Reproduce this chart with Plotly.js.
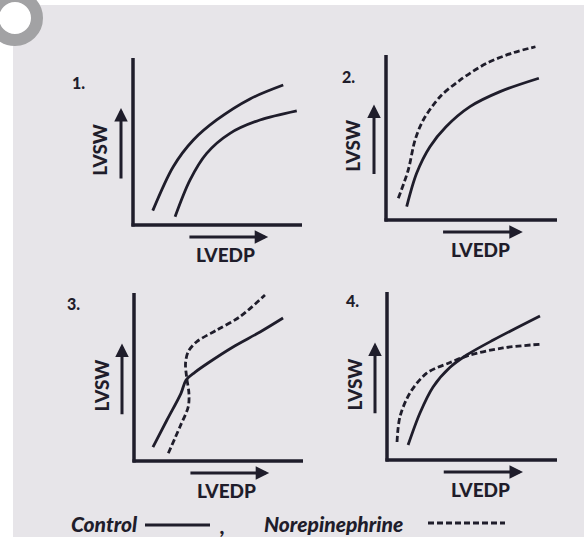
<!DOCTYPE html>
<html>
<head>
<meta charset="utf-8">
<script src="https://cdn.plot.ly/plotly-3.0.1.min.js"></script>
<style>html,body{margin:0;padding:0;background:#e8e6ea;}</style>
</head>
<body>
<div id="chart" style="width:584px;height:537px;"></div>
<script>
// ---------- data (arbitrary units, 0-10 along each axis) ----------
const panelLabels = ['1.', '2.', '3.', '4.'];
const xAxisLabel = 'LVEDP';
const yAxisLabel = 'LVSW';
const legendControl = 'Control';
const legendNorepi = 'Norepinephrine';

// Panel 1 (both curves printed solid)
const p1UpperX = [1.17, 2.38, 3.57, 4.95, 6.92, 8.89];
const p1UpperY = [0.86, 3.49, 5.09, 6.29, 7.55, 8.38];
const p1LowerX = [2.49, 3.37, 4.36, 5.74, 7.51, 9.69];
const p1LowerY = [0.50, 2.69, 4.29, 5.49, 6.29, 6.84];
// Panel 2
const p2ControlX = [1.21, 1.79, 2.57, 3.51, 4.91, 6.67, 8.94];
const p2ControlY = [0.81, 2.83, 4.44, 5.65, 6.87, 7.78, 8.59];
const p2NorepiX = [0.72, 1.30, 1.70, 2.18, 3.16, 4.33, 5.89, 7.45, 8.74];
const p2NorepiY = [1.32, 3.03, 4.85, 6.06, 7.47, 8.48, 9.50, 10.14, 10.50];
// Panel 3
const p3ControlX = [1.12, 1.95, 2.78, 3.08, 3.60, 4.36, 5.86, 7.46, 8.82];
const p3ControlY = [0.83, 2.44, 4.03, 4.82, 5.28, 5.82, 6.79, 7.68, 8.51];
const p3NorepiX = [2.03, 2.72, 3.21, 3.25, 3.11, 3.05, 3.21, 3.71, 4.91, 6.27, 7.75];
const p3NorepiY = [0.46, 2.04, 3.23, 4.03, 5.02, 5.82, 6.51, 7.10, 7.80, 8.59, 9.88];
// Panel 4
const p4ControlX = [1.24, 1.94, 2.71, 3.71, 4.69, 6.25, 9.00];
const p4ControlY = [0.89, 2.80, 4.35, 5.52, 6.25, 7.14, 8.57];
const p4NorepiX = [0.59, 0.76, 1.35, 2.35, 3.71, 4.88, 6.82, 9.12];
const p4NorepiY = [1.07, 2.56, 3.99, 5.18, 5.80, 6.25, 6.67, 6.90];

// ---------- layout / styling ----------
const W = 584, H = 537;
const INK = '#1f1d2b';
const BG = '#e7e5e9';
const FONT = 'Lato, "Open Sans", sans-serif';
const DASH = '6px,3px';
const curveW = 2.8;

// pixel boxes of each panel's axes: [left, right, bottom, top], and number-label offsets (px)
const panels = [
  {box: [133, 302, 225, 58], num: [-55, 24]},
  {box: [386, 557, 220, 55], num: [-38, 22]},
  {box: [134, 303, 461, 293], num: [-61, 10]},
  {box: [387, 557, 460, 292], num: [-35, 8]}
];
const series = [
  [[p1UpperX, p1UpperY, 'solid'], [p1LowerX, p1LowerY, 'solid']],
  [[p2ControlX, p2ControlY, 'solid'], [p2NorepiX, p2NorepiY, DASH]],
  [[p3ControlX, p3ControlY, 'solid'], [p3NorepiX, p3NorepiY, DASH]],
  [[p4ControlX, p4ControlY, 'solid'], [p4NorepiX, p4NorepiY, DASH]]
];

const pad = {l: 72, r: 14, b: 44, t: 16};
const layout = {
  width: W, height: H,
  margin: {l: 0, r: 0, t: 0, b: 0},
  paper_bgcolor: BG, plot_bgcolor: 'rgba(0,0,0,0)',
  showlegend: false,
  shapes: [], annotations: []
};
const traces = [];

panels.forEach((p, i) => {
  const [L, R, B, T] = p.box;
  const w = R - L, h = B - T;
  const n = i + 1;
  const xa = 'xaxis' + (n === 1 ? '' : n), ya = 'yaxis' + (n === 1 ? '' : n);
  const xr = 'x' + (n === 1 ? '' : n), yr = 'y' + (n === 1 ? '' : n);
  const dx = px => px / w * 10, dy = px => px / h * 10;
  layout[xa] = {domain: [(L - pad.l) / W, (R + pad.r) / W], range: [-dx(pad.l), 10 + dx(pad.r)],
                visible: false, fixedrange: true, anchor: yr};
  layout[ya] = {domain: [1 - (B + pad.b) / H, 1 - (T - pad.t) / H], range: [-dy(pad.b), 10 + dy(pad.t)],
                visible: false, fixedrange: true, anchor: xr};
  series[i].forEach(s => {
    traces.push({x: s[0], y: s[1], xaxis: xr, yaxis: yr, type: 'scatter', mode: 'lines',
                 line: {color: INK, width: curveW, dash: s[2], shape: 'spline', smoothing: 0.9},
                 hoverinfo: 'skip'});
  });
  // axis lines
  layout.shapes.push({type: 'line', xref: xr, yref: yr, x0: -dx(1.5), x1: 10, y0: 0, y1: 0,
                      line: {color: INK, width: 3.5}});
  layout.shapes.push({type: 'line', xref: xr, yref: yr, x0: 0, x1: 0, y0: -dy(1.5), y1: 10,
                      line: {color: INK, width: 3.5}});
  // direction arrows
  layout.annotations.push({xref: xr, yref: yr, axref: xr, ayref: yr, x: 8.0, y: -dy(12), ax: 3.25, ay: -dy(12),
    text: '', showarrow: true, arrowhead: 2, arrowsize: 0.9, arrowwidth: 3, arrowcolor: INK, standoff: 0});
  layout.annotations.push({xref: xr, yref: yr, axref: xr, ayref: yr, x: -dx(12), y: 7.0, ax: -dx(12), ay: 2.7,
    text: '', showarrow: true, arrowhead: 2, arrowsize: 0.9, arrowwidth: 3, arrowcolor: INK, standoff: 0});
  // axis labels
  layout.annotations.push({xref: xr, yref: yr, x: 5.5, y: -dy(29), text: xAxisLabel, showarrow: false,
    xanchor: 'center', yanchor: 'middle', font: {family: FONT, size: 19, weight: 900, color: INK}});
  layout.annotations.push({xref: xr, yref: yr, x: -dx(33), y: 4.5, text: yAxisLabel, showarrow: false,
    textangle: -90, xanchor: 'center', yanchor: 'middle', font: {family: FONT, size: 19, weight: 900, color: INK}});
  // panel number
  layout.annotations.push({xref: xr, yref: yr, x: -dx(-p.num[0]), y: 10 - dy(p.num[1]), text: panelLabels[i],
    showarrow: false, xanchor: 'center', yanchor: 'middle', font: {family: FONT, size: 16, weight: 900, color: INK}});
});

// scan edge (white margins) and watermark ring
layout.shapes.unshift(
  {type: 'rect', xref: 'paper', yref: 'paper', x0: 0, x1: 13 / W, y0: 0, y1: 1, line: {width: 0}, fillcolor: '#ffffff', layer: 'below'},
  {type: 'rect', xref: 'paper', yref: 'paper', x0: 0, x1: 1, y0: 1 - 5 / H, y1: 1, line: {width: 0}, fillcolor: '#ffffff', layer: 'below'}
);
layout.shapes.push({type: 'circle', xref: 'paper', yref: 'paper',
  x0: -7 / W, x1: 37 / W, y0: 1 - 40 / H, y1: 1 + 4 / H,
  line: {color: '#a2a2a4', width: 12}, fillcolor: '#ffffff'});

// legend (text + line samples)
const legY = 1 - 523 / H;
const legFont = {family: FONT, size: 21, weight: 900, style: 'italic', color: INK};
layout.annotations.push({xref: 'paper', yref: 'paper', x: 69 / W, y: legY, text: legendControl, showarrow: false,
  xanchor: 'left', yanchor: 'middle', font: legFont});
layout.annotations.push({xref: 'paper', yref: 'paper', x: 222 / W, y: legY - 2 / H, text: ',', showarrow: false,
  xanchor: 'center', yanchor: 'middle', font: legFont});
layout.annotations.push({xref: 'paper', yref: 'paper', x: 262 / W, y: legY, text: legendNorepi, showarrow: false,
  xanchor: 'left', yanchor: 'middle', font: legFont});
layout.shapes.push({type: 'line', xref: 'paper', yref: 'paper', x0: 145 / W, x1: 210 / W, y0: 1 - 525 / H, y1: 1 - 525 / H,
  line: {color: INK, width: 3}});
layout.shapes.push({type: 'line', xref: 'paper', yref: 'paper', x0: 428 / W, x1: 505 / W, y0: 1 - 523 / H, y1: 1 - 523 / H,
  line: {color: INK, width: 3, dash: DASH}});

Plotly.newPlot('chart', traces, layout, {staticPlot: true, displayModeBar: false});
</script>
</body>
</html>
